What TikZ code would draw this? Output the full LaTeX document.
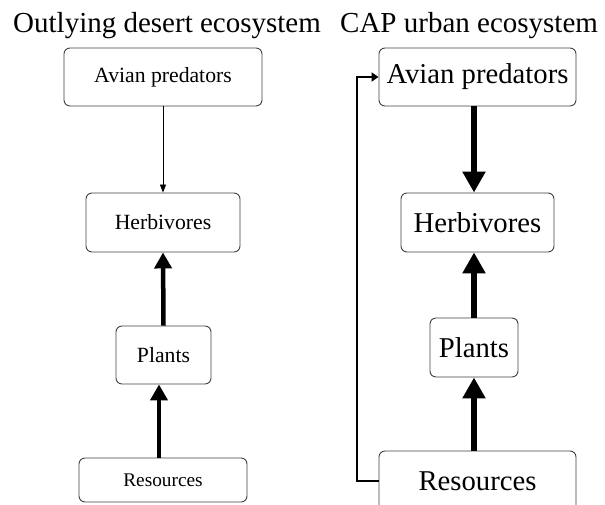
\documentclass[tikz,border=0pt]{standalone}
\usepackage{fontspec}
\setmainfont{Liberation Serif}
\usetikzlibrary{arrows.meta}
\tikzset{
  box/.style={draw=black!75, line width=0.9pt, rounded corners=6pt, inner sep=0pt, align=center},
  lefttext/.style={font=\fontsize{21.7}{24}\selectfont},
  righttext/.style={font=\fontsize{28.7}{32}\selectfont},
  titletext/.style={font=\fontsize{29}{32}\selectfont, anchor=base west, inner sep=0pt},
  thin arrow/.style={line width=0.8pt, -{Triangle[width=6pt,length=8pt]}},
  left thick/.style={line width=4.5pt, -{Triangle[width=17pt,length=16pt]}},
  right thick/.style={line width=6.5pt, -{Triangle[width=22pt,length=21pt]}},
  feedback/.style={line width=2.6pt, -{Triangle[width=9pt,length=7pt]}}
}
\begin{document}
\begin{tikzpicture}[x=1pt,y=-1pt]
\useasboundingbox (0,0) rectangle (605,504);
\clip (0,0) rectangle (605,504);
% titles
\node[titletext] (t1) at (13,32) {Outlying desert ecosystem};
\node[titletext] (t2) at (340,32) {CAP urban ecosystem};
% left column
\node[box, lefttext, minimum width=198pt, minimum height=58pt] (lav) at (163,77) {Avian predators};
\node[box, lefttext, minimum width=154pt, minimum height=59pt] (lhe) at (163,222.5) {Herbivores};
\node[box, lefttext, minimum width=95pt, minimum height=58pt] (lpl) at (163.5,355) {Plants};
\node[box, font=\fontsize{19.3}{22}\selectfont, minimum width=168pt, minimum height=44pt] (lre) at (163,480) {Resources};
% right column
\node[box, righttext, minimum width=197pt, minimum height=58pt] (rav) at (477.5,77) {Avian predators};
\node[box, righttext, minimum width=153pt, minimum height=59pt] (rhe) at (477.5,222.5) {Herbivores};
\node[box, righttext, minimum width=88pt, minimum height=59pt] (rpl) at (474,347.5) {Plants};
\node[box, righttext, minimum width=197pt, minimum height=60pt] (rre) at (477.5,481) {Resources};
% left arrows
\draw[thin arrow] (lav.south) -- (lhe.north);
\draw[left thick] (lpl.north) -- (lhe.south);
\draw[left thick] ([xshift=-4pt]lre.north) -- ([xshift=-4.5pt]lpl.south);
% right arrows
\draw[right thick] (rav.south -| rpl.north) -- (rhe.north -| rpl.north);
\draw[right thick] (rpl.north) -- (rhe.south -| rpl.north);
\draw[right thick] (rre.north -| rpl.south) -- (rpl.south);
% feedback
\coordinate (fbc) at (357,0);
\draw[feedback] (rre.west) -| (fbc |- rav.west) -- (rav.west);
\end{tikzpicture}
\end{document}
